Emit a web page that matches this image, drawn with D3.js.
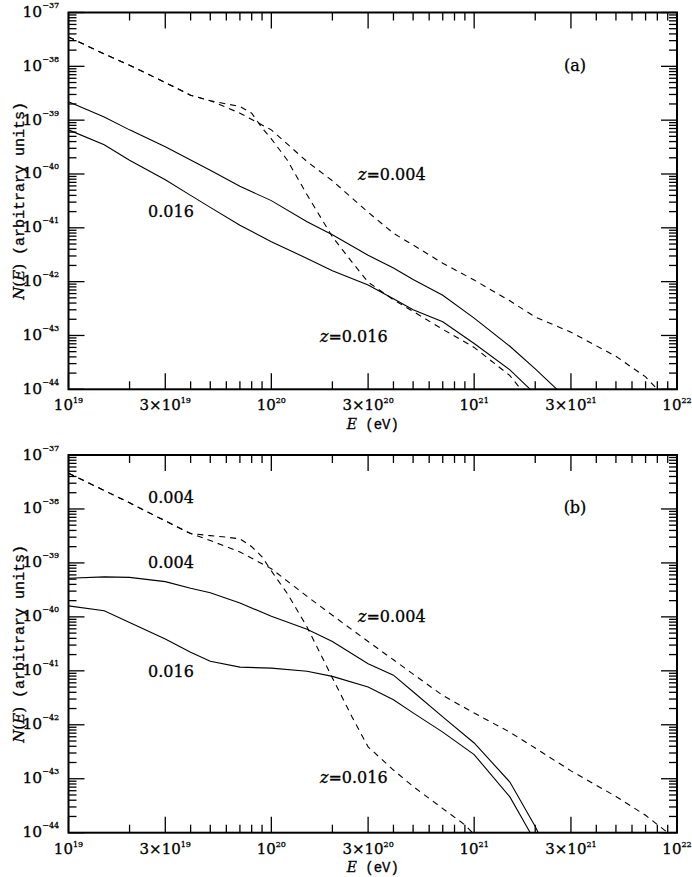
<!DOCTYPE html>
<html>
<head>
<meta charset="utf-8">
<script src="https://cdn.jsdelivr.net/npm/d3@7"></script>
<style>
  body { margin: 0; background: #fff; }
  text { font-family: "DejaVu Serif", serif; fill: #000; stroke: #000; stroke-width: 0.3; }
  .tt { font-family: "Liberation Mono", monospace; }
</style>
</head>
<body>
<script>
// panel (a) curves, [E in eV, N(E)]
const aDashZ004 = [[1e19,3.5e-38],[1.5e19,1.7e-38],[2e19,1.05e-38],[3e19,5.0e-39],[4e19,2.9e-39],[5e19,2.3e-39],[7e19,1.35e-39],[1e20,6.6e-40],[1.5e20,1.7e-40],[2e20,7.5e-41],[3e20,1.95e-41],[4e20,7.9e-42],[5e20,4.8e-42],[7e20,2.2e-42],[1e21,1.07e-42],[1.5e21,4.4e-43],[2e21,2.2e-43],[3e21,1.15e-43],[5e21,4.1e-44],[7e21,1.7e-44],[8e21,1e-44]];
const aDashZ016 = [[1e19,3.5e-38],[1.5e19,1.7e-38],[2e19,1.05e-38],[3e19,5.0e-39],[4e19,2.9e-39],[5e19,2.3e-39],[6e19,2.0e-39],[7e19,1.8e-39],[8e19,1.35e-39],[9e19,7.2e-40],[1e20,4.5e-40],[1.2e20,1.8e-40],[1.5e20,4.1e-41],[2e20,6.8e-42],[2.5e20,2.3e-42],[3e20,9.8e-43],[4e20,4.6e-43],[5e20,2.8e-43],[7e20,1.3e-43],[1e21,6.0e-44],[1.5e21,1.8e-44],[1.7e21,1e-44]];
const aSolid004 = [[1e19,2.2e-39],[1.5e19,1.15e-39],[2e19,6.6e-40],[3e19,3.2e-40],[5e19,1.17e-40],[7e19,5.9e-41],[1e20,3.2e-41],[1.5e20,1.3e-41],[2e20,7.4e-42],[3e20,3.1e-42],[4e20,1.8e-42],[5e20,1.1e-42],[7e20,5.6e-43],[1e21,2.1e-43],[1.5e21,6.3e-44],[2e21,2.4e-44],[2.56e21,1e-44]];
const aSolid016 = [[1e19,6.6e-40],[1.5e19,3.5e-40],[2e19,1.8e-40],[3e19,7.8e-41],[4e19,4.0e-41],[5e19,2.4e-41],[7e19,1.12e-41],[1e20,5.5e-42],[1.5e20,2.7e-42],[2e20,1.6e-42],[3e20,8.7e-43],[4e20,4.8e-43],[5e20,3.0e-43],[7e20,1.8e-43],[1e21,7.1e-44],[1.5e21,2.3e-44],[1.89e21,1e-44]];

// panel (b) curves
const bDashZ004 = [[1e19,4.6e-38],[1.5e19,2.2e-38],[2e19,1.3e-38],[3e19,6.0e-39],[4e19,3.5e-39],[5e19,2.6e-39],[7e19,1.6e-39],[1e20,7.8e-40],[1.5e20,2.4e-40],[2e20,1.07e-40],[3e20,3.5e-41],[4e20,1.6e-41],[5e20,8.7e-42],[7e20,3.5e-42],[1e21,1.65e-42],[1.5e21,7.3e-43],[2e21,3.7e-43],[3e21,1.4e-43],[5e21,4.7e-44],[7e21,2.1e-44],[9e21,1e-44]];
const bDashZ016 = [[1e19,4.6e-38],[1.5e19,2.2e-38],[2e19,1.3e-38],[3e19,6.0e-39],[4e19,3.5e-39],[5e19,3.2e-39],[6e19,3.0e-39],[7e19,2.8e-39],[8e19,2.0e-39],[9e19,1.3e-39],[1e20,7.1e-40],[1.2e20,2.7e-40],[1.5e20,6.5e-41],[2e20,7.4e-42],[2.5e20,1.4e-42],[3e20,3.9e-43],[4e20,1.45e-43],[5e20,7.2e-44],[7e20,2.8e-44],[9e20,1.4e-44],[9.8e20,1e-44]];
const bSolid004 = [[1e19,5.2e-40],[1.5e19,5.5e-40],[2e19,5.4e-40],[3e19,4.5e-40],[4e19,3.4e-40],[5e19,2.8e-40],[7e19,1.8e-40],[1e20,1.03e-40],[1.5e20,5.9e-41],[2e20,3.5e-41],[3e20,1.35e-41],[4e20,8.3e-42],[5e20,4.1e-42],[7e20,1.4e-42],[1e21,4.6e-43],[1.5e21,8.7e-44],[2e21,1.3e-44],[2.07e21,1e-44]];
const bSolid016 = [[1e19,1.6e-40],[1.5e19,1.3e-40],[2e19,7.9e-41],[3e19,3.9e-41],[4e19,2.2e-41],[5e19,1.5e-41],[7e19,1.17e-41],[1e20,1.12e-41],[1.5e20,9.8e-42],[2e20,7.9e-42],[3e20,5.0e-42],[4e20,2.9e-42],[5e20,1.66e-42],[7e20,7.3e-43],[1e21,2.8e-43],[1.5e21,4.6e-44],[1.89e21,1e-44]];

// tick labels
const xTickVals = [1e19, 3e19, 1e20, 3e20, 1e21, 3e21, 1e22];
const xTickMant = ["10", "3\u00d710", "10", "3\u00d710", "10", "3\u00d710", "10"];
const xTickExp = ["19", "19", "20", "20", "21", "21", "22"];
const yTickVals = [1e-37, 1e-38, 1e-39, 1e-40, 1e-41, 1e-42, 1e-43, 1e-44];
const yTickExp = ["\u221237", "\u221238", "\u221239", "\u221240", "\u221241", "\u221242", "\u221243", "\u221244"];

const svg = d3.select("body").append("svg")
  .attr("width", 692)
  .attr("height", 877);

const left = 68.5, right = 677;

function drawPanel(top, bottom, curves, labels, tag, id) {
  const x = d3.scaleLog().domain([1e19, 1e22]).range([left, right]);
  const y = d3.scaleLog().domain([1e-44, 1e-37]).range([bottom, top]);
  const g = svg.append("g");

  g.append("clipPath").attr("id", "clip" + id)
    .append("rect")
    .attr("x", left).attr("y", top)
    .attr("width", right - left).attr("height", bottom - top);

  const line = d3.line().x(d => x(d[0])).y(d => y(d[1]));

  curves.forEach(c => {
    g.append("path")
      .datum(c.data)
      .attr("clip-path", "url(#clip" + id + ")")
      .attr("fill", "none")
      .attr("stroke", "#000")
      .attr("stroke-width", 1.1)
      .attr("stroke-dasharray", c.dash ? "6,5" : null)
      .attr("d", line);
  });

  // ticks, pointing inward on all four sides
  x.ticks().forEach(t => {
    const m = Math.round(t / Math.pow(10, Math.floor(Math.log10(t) + 1e-9)));
    const len = (m === 1 || m === 3) ? 16 : 8;
    g.append("line").attr("x1", x(t)).attr("x2", x(t)).attr("y1", bottom).attr("y2", bottom - len)
      .attr("stroke", "#000").attr("stroke-width", 1.3);
    g.append("line").attr("x1", x(t)).attr("x2", x(t)).attr("y1", top).attr("y2", top + len)
      .attr("stroke", "#000").attr("stroke-width", 1.3);
  });
  y.ticks().forEach(t => {
    const m = Math.round(t / Math.pow(10, Math.floor(Math.log10(t) + 1e-9)));
    const len = m === 1 ? 16 : 8;
    g.append("line").attr("x1", left).attr("x2", left + len).attr("y1", y(t)).attr("y2", y(t))
      .attr("stroke", "#000").attr("stroke-width", 1.3);
    g.append("line").attr("x1", right).attr("x2", right - len).attr("y1", y(t)).attr("y2", y(t))
      .attr("stroke", "#000").attr("stroke-width", 1.3);
  });

  g.append("rect")
    .attr("x", left).attr("y", top)
    .attr("width", right - left).attr("height", bottom - top)
    .attr("fill", "none").attr("stroke", "#000").attr("stroke-width", 2);

  // tick labels
  xTickVals.forEach((v, i) => {
    const t = g.append("text")
      .attr("x", x(v)).attr("y", bottom + 21)
      .attr("text-anchor", "middle")
      .attr("font-size", "15px")
      .text(xTickMant[i]);
    t.append("tspan").attr("dy", -7).attr("font-size", "8px").text(xTickExp[i]);
  });
  yTickVals.forEach((v, i) => {
    const t = g.append("text")
      .attr("x", 22.5).attr("y", y(v) + 4.5)
      .attr("font-size", "15.5px")
      .text("10");
    t.append("tspan").attr("dy", -9).attr("font-size", "8px").text(yTickExp[i]);
  });

  // axis titles
  const xt = g.append("text")
    .attr("x", (left + right) / 2).attr("y", bottom + 39.5)
    .attr("text-anchor", "middle")
    .attr("font-size", "14px");
  xt.append("tspan").attr("font-style", "italic").text("E");
  xt.append("tspan").attr("class", "tt").text(" (eV)");

  const yt = g.append("text")
    .attr("transform", "translate(24," + ((top + bottom) / 2) + ") rotate(-90)")
    .attr("text-anchor", "middle")
    .attr("font-size", "15px");
  yt.append("tspan").attr("font-style", "italic").text("N");
  yt.append("tspan").text("(");
  yt.append("tspan").attr("font-style", "italic").text("E");
  yt.append("tspan").text(")");
  yt.append("tspan").attr("class", "tt").text(" (arbitrary units)");

  // curve labels
  labels.forEach(l => {
    const t = g.append("text")
      .attr("x", l.x).attr("y", l.y)
      .attr("font-size", "16px");
    if (l.z) {
      t.append("tspan").attr("font-style", "italic").text("z");
      t.append("tspan").text("=" + l.text);
    } else {
      t.text(l.text);
    }
  });

  g.append("text")
    .attr("x", 575).attr("y", top + 58)
    .attr("text-anchor", "middle")
    .attr("font-size", "16px")
    .text(tag);
}

drawPanel(12.5, 389.3,
  [{ data: aDashZ004, dash: true }, { data: aDashZ016, dash: true },
   { data: aSolid004, dash: false }, { data: aSolid016, dash: false }],
  [{ x: 358, y: 180, text: "0.004", z: true },
   { x: 148, y: 217, text: "0.016" },
   { x: 320, y: 342, text: "0.016", z: true }],
  "(a)", "a");

drawPanel(455, 832.7,
  [{ data: bDashZ004, dash: true }, { data: bDashZ016, dash: true },
   { data: bSolid004, dash: false }, { data: bSolid016, dash: false }],
  [{ x: 148, y: 503, text: "0.004" },
   { x: 148, y: 568, text: "0.004" },
   { x: 148, y: 677, text: "0.016" },
   { x: 358, y: 622, text: "0.004", z: true },
   { x: 320, y: 783, text: "0.016", z: true }],
  "(b)", "b");
</script>
</body>
</html>
